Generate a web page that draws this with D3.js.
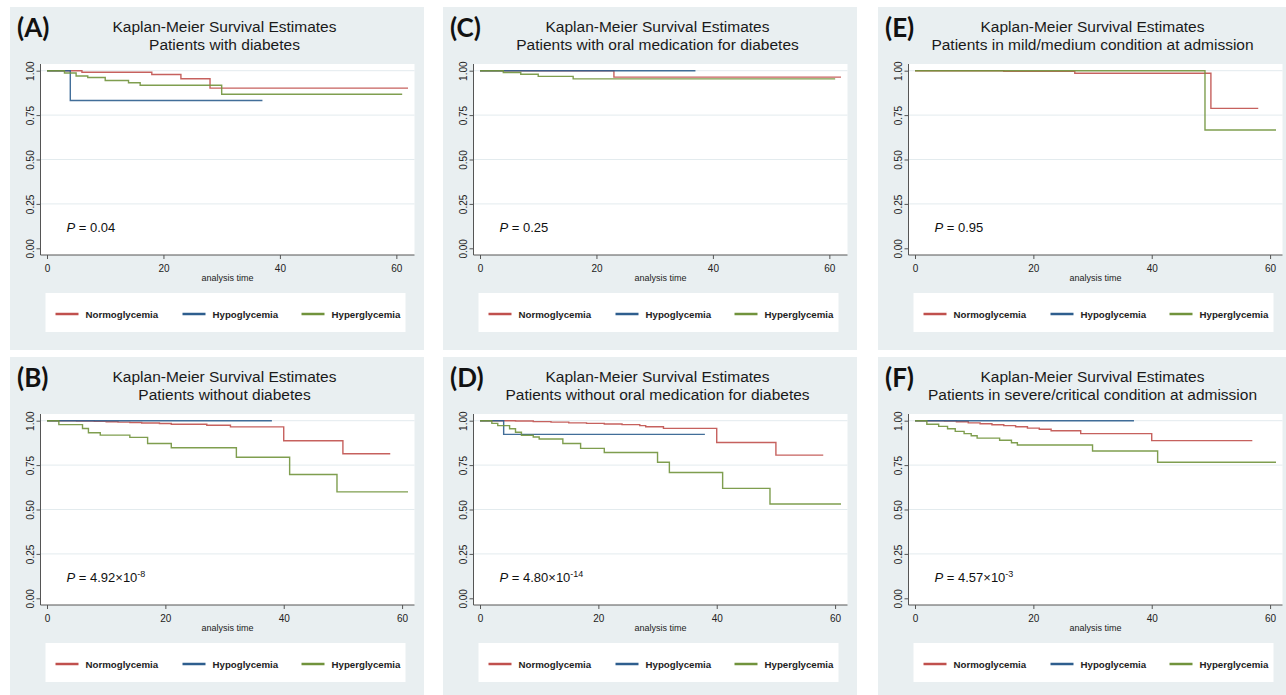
<!DOCTYPE html>
<html>
<head>
<meta charset="utf-8">
<script src="https://cdn.jsdelivr.net/npm/d3@7"></script>
<style>
  body { margin: 0; background: #fff; }
  svg { display: block; font-family: "Liberation Sans", Arial, sans-serif; }
</style>
</head>
<body>
<script>
// ---- data ----
const panelIds = ["A", "B", "C", "D", "E", "F"];
const mainTitle = "Kaplan-Meier Survival Estimates";
const subTitles = [
  "Patients with diabetes",
  "Patients without diabetes",
  "Patients with oral medication for diabetes",
  "Patients without oral medication for diabetes",
  "Patients in mild/medium condition at admission",
  "Patients in severe/critical condition at admission"
];
const pMantissa = ["0.04", "4.92\u00d710", "0.25", "4.80\u00d710", "0.95", "4.57\u00d710"];
const pExponent = ["", "-8", "", "-14", "", "-3"];
const groups = ["Normoglycemia", "Hypoglycemia", "Hyperglycemia"];
const yTicks = [0, 0.25, 0.5, 0.75, 1];
const xTicks = [0, 20, 40, 60];

// survival steps: [analysis time, survival]; last point = end of follow-up
const normoA = [[0,1],[6,0.991],[18,0.979],[23,0.955],[28,0.902],[62,0.902]];
const hypoA  = [[0,1],[4,0.832],[37,0.832]];
const hyperA = [[0,1],[3,0.987],[5,0.970],[7,0.962],[10,0.945],[14,0.932],[16,0.918],[30,0.867],[61,0.867]];

const normoB = [[0,1],[5,0.998],[8,0.996],[10,0.994],[12,0.992],[14,0.990],[16,0.987],[19,0.984],[21,0.980],[27,0.974],[31,0.965],[40,0.887],[50,0.814],[58,0.814]];
const hypoB  = [[0,1],[38,1]];
const hyperB = [[0,1],[2,0.978],[6,0.956],[7,0.932],[9,0.919],[14,0.906],[17,0.872],[21,0.848],[32,0.794],[41,0.697],[49,0.599],[61,0.599]];

const normoC = [[0,1],[23,0.964],[62,0.964]];
const hypoC  = [[0,1],[37,1]];
const hyperC = [[0,1],[4,0.990],[7,0.980],[10,0.968],[16,0.954],[61,0.954]];

const normoD = [[0,1],[6,0.998],[9,0.995],[12,0.992],[15,0.988],[18,0.985],[21,0.981],[24,0.978],[27,0.972],[28,0.966],[31,0.957],[40,0.877],[50,0.806],[58,0.806]];
const hypoD  = [[0,1],[4,0.923],[38,0.923]];
const hyperD = [[0,1],[2,0.985],[3,0.972],[5,0.955],[6,0.935],[7,0.918],[9,0.908],[10,0.897],[14,0.872],[17,0.844],[21,0.821],[30,0.766],[32,0.708],[41,0.619],[49,0.531],[61,0.531]];

const normoE = [[0,1],[15,0.996],[27,0.986],[50,0.788],[58,0.788]];
const hypoE  = [];
const hyperE = [[0,1],[49,0.666],[61,0.666]];

const normoF = [[0,1],[5,0.998],[7,0.994],[9,0.988],[11,0.983],[13,0.977],[15,0.972],[17,0.966],[19,0.958],[21,0.952],[23,0.943],[28,0.927],[40,0.888],[57,0.888]];
const hypoF  = [[0,1],[37,1]];
const hyperF = [[0,1],[2,0.980],[4,0.968],[5.5,0.955],[6.8,0.940],[8.3,0.927],[9.5,0.915],[10.5,0.902],[14.3,0.890],[16.3,0.876],[17.3,0.863],[30,0.829],[41,0.766],[61,0.766]];

const curves = [
  [normoA, hypoA, hyperA], [normoB, hypoB, hyperB], [normoC, hypoC, hyperC],
  [normoD, hypoD, hyperD], [normoE, hypoE, hyperE], [normoF, hypoF, hyperF]
];

// ---- layout ----
const W = 1286, H = 695;
const colors = ["#c0504d", "#2e5e8e", "#71933c"];
const colLeft = [10, 443, 878], rowTop = [7, 357];
const bgW = 414, bgH = [343, 338];
const pw = 374, ph = 191;

const svg = d3.select("body").append("svg")
    .attr("width", W).attr("height", H);

panelIds.forEach((id, i) => {
  const col = Math.floor(i / 2), row = i % 2;
  const bx = colLeft[col], by = rowTop[row];
  const pl = bx + 30.5, pt = by + 57;
  const g = svg.append("g");

  g.append("rect")
      .attr("x", bx).attr("y", by)
      .attr("width", Math.min(bgW, W - bx)).attr("height", bgH[row])
      .attr("fill", "#e9eff1");

  // panel letter
  g.append("text")
      .attr("x", bx + 7).attr("y", by + 29.5)
      .style("font-family", "Lato, 'Open Sans', sans-serif")
      .style("font-weight", "bold").style("font-size", "26px")
      .attr("fill", "#111")
      .text(`(${id})`);

  // titles
  const tcx = pl + pw / 2 - 3;
  g.append("text")
      .attr("x", tcx).attr("y", by + 24.5)
      .attr("text-anchor", "middle").style("font-size", "15.5px").attr("fill", "#1a1a1a")
      .text(mainTitle);
  g.append("text")
      .attr("x", tcx).attr("y", by + 43)
      .attr("text-anchor", "middle").style("font-size", "15.5px").attr("fill", "#1a1a1a")
      .text(subTitles[i]);

  // plot region
  g.append("rect")
      .attr("x", pl).attr("y", pt).attr("width", pw).attr("height", ph)
      .attr("fill", "#fff");

  const series = curves[i];
  const tMax = d3.max(series.flat(), d => d[0]);
  const x = d3.scaleLinear().domain([0, tMax]).range([pl + 6.5, pl + pw - 6.5]);
  const y = d3.scaleLinear().domain([0, 1]).range([pt + ph - 6.7, pt + 6.7]);

  // grid
  g.append("g").selectAll("line")
    .data(yTicks.filter(v => v > 0))
    .join("line")
      .attr("x1", pl).attr("x2", pl + pw)
      .attr("y1", d => y(d)).attr("y2", d => y(d))
      .attr("stroke", "#e3ebee").attr("stroke-width", 1);

  // y axis
  const ya = g.append("g").attr("transform", `translate(${pl},0)`)
      .call(d3.axisLeft(y).tickValues(yTicks).tickFormat(d3.format(".2f")).tickSize(4).tickSizeOuter(0));
  ya.select(".domain").remove();
  ya.selectAll(".tick line").attr("stroke", "#555");
  ya.selectAll(".tick text")
      .attr("transform", "rotate(-90)")
      .attr("x", 0).attr("y", -7).attr("dy", 0)
      .attr("text-anchor", "middle")
      .style("font-size", "10px").attr("fill", "#222");

  // x axis
  const xa = g.append("g").attr("transform", `translate(0,${pt + ph})`)
      .call(d3.axisBottom(x).tickValues(xTicks).tickSize(4).tickSizeOuter(0));
  xa.select(".domain").remove();
  xa.selectAll(".tick line").attr("stroke", "#555");
  xa.selectAll(".tick text")
      .attr("y", 17).attr("dy", 0)
      .style("font-size", "10px").attr("fill", "#222");

  g.append("line")
      .attr("x1", pl).attr("x2", pl).attr("y1", pt).attr("y2", pt + ph)
      .attr("stroke", "#555");
  g.append("line")
      .attr("x1", pl).attr("x2", pl + pw).attr("y1", pt + ph).attr("y2", pt + ph)
      .attr("stroke", "#555");

  g.append("text")
      .attr("x", pl + pw / 2).attr("y", pt + ph + 26)
      .attr("text-anchor", "middle").style("font-size", "9px").attr("fill", "#222")
      .text("analysis time");

  // KM curves
  const line = d3.line()
      .x(d => x(d[0])).y(d => y(d[1]))
      .curve(d3.curveStepAfter);
  series.forEach((s, k) => {
    if (!s.length) return;
    g.append("path")
        .attr("d", line(s))
        .attr("fill", "none")
        .attr("stroke", colors[k]).attr("stroke-width", 1.4)
        .attr("stroke-opacity", 0.9);
  });

  // p value
  const pTxt = g.append("text")
      .attr("x", pl + 26).attr("y", pt + ph - 23.5)
      .style("font-size", "13px").attr("fill", "#111");
  pTxt.append("tspan").style("font-style", "italic").text("P");
  pTxt.append("tspan").text(" = " + pMantissa[i]);
  if (pExponent[i]) {
    pTxt.append("tspan").attr("dy", -5).style("font-size", "9px").text(pExponent[i]);
  }

  // legend
  const lx = pl + 5, ly = pt + ph + 38;
  g.append("rect")
      .attr("x", lx).attr("y", ly).attr("width", pw - 14).attr("height", 39)
      .attr("fill", "#fff");
  const itemX = [10, 137, 256];
  groups.forEach((name, k) => {
    g.append("line")
        .attr("x1", lx + itemX[k]).attr("x2", lx + itemX[k] + 23)
        .attr("y1", ly + 21).attr("y2", ly + 21)
        .attr("stroke", colors[k]).attr("stroke-width", 2.5);
    g.append("text")
        .attr("x", lx + itemX[k] + 30).attr("y", ly + 24.5)
        .style("font-size", "9.7px").style("font-weight", "bold").attr("fill", "#222")
        .text(name);
  });
});
</script>
</body>
</html>
